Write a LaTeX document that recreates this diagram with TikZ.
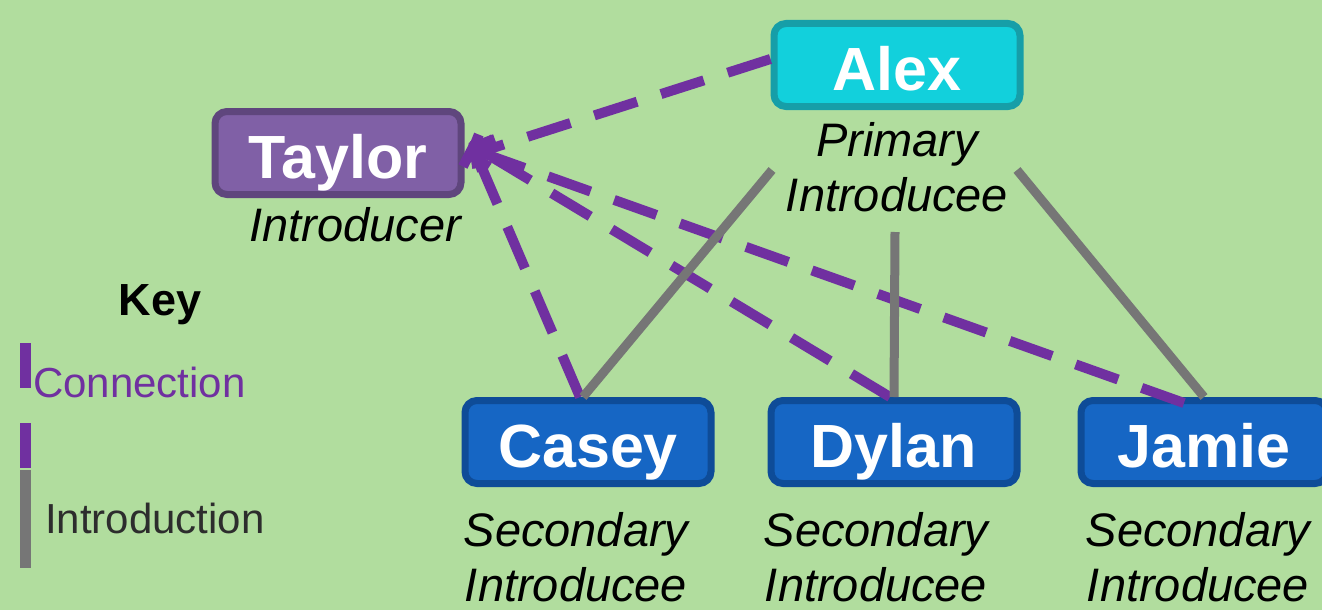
\documentclass[tikz,border=0pt]{standalone}
\usepackage{fontspec}
\setmainfont{Liberation Sans}
\usetikzlibrary{arrows.meta,positioning}

\definecolor{bggreen}{RGB}{177,221,158}
\definecolor{conpurple}{RGB}{112,48,160}
\definecolor{introgray}{RGB}{118,118,118}
\definecolor{keygray}{RGB}{45,45,45}
\definecolor{taylorfill}{RGB}{128,96,166}
\definecolor{taylorline}{RGB}{95,70,125}
\definecolor{alexfill}{RGB}{18,208,220}
\definecolor{alexline}{RGB}{22,158,168}
\definecolor{secfill}{RGB}{22,102,196}
\definecolor{secline}{RGB}{14,76,152}

\tikzstyle{person}=[draw, rounded corners=12pt, line width=7pt, minimum width=246pt, minimum height=83pt, inner sep=0pt, text height=56pt, text depth=6pt, text=white, font=\fontsize{61}{70}\selectfont\bfseries]
\tikzstyle{role}=[align=center, inner sep=0pt, font=\fontsize{47}{55}\selectfont\itshape]
\tikzstyle{connection}=[draw=conpurple, line width=10pt, dash pattern=on 45pt off 25pt, -{Straight Barb[length=14pt,width=34pt]}]
\tikzstyle{introduction}=[draw=introgray, line width=9pt]
\tikzstyle{keytext}=[anchor=west, inner sep=0pt, font=\fontsize{42}{50}\selectfont]

\begin{document}
\begin{tikzpicture}[x=1pt,y=-1pt]
        \path[use as bounding box, fill=bggreen] (0,0) rectangle (1322,610);
        \clip (0,0) rectangle (1322,610);

        % people
        \node[person, fill=taylorfill, draw=taylorline] (taylor) at (338,153) {Taylor};
        \node[person, fill=alexfill, draw=alexline] (alex) at (897,65) {Alex};
        \node[person, fill=secfill, draw=secline] (casey) at (588,442) {Casey};
        \node[person, fill=secfill, draw=secline] (dylan) at (894,442) {Dylan};
        \node[person, fill=secfill, draw=secline] (jamie) at (1204,442) {Jamie};

        % roles
        \node[role] (taylorrole) at (355,225) {Introducer};
        \node[role] (alexrole) at (897,167) {Primary\\Introducee};
        \node[role] (caseyrole) at (576,557) {Secondary\\Introducee};
        \node[role] (dylanrole) at (876,557) {Secondary\\Introducee};
        \node[role] (jamierole) at (1198,557) {Secondary\\Introducee};

        % connections
        \draw[connection] ([yshift=6pt]alex.west) -- ([yshift=-4pt]taylor.east);
        \draw[connection] ([xshift=-8pt]casey.north) -- ([xshift=6pt,yshift=12pt]taylor.east);
        \draw[connection] ([xshift=-4pt]dylan.north) -- ([xshift=4pt,yshift=10pt]taylor.east);
        \draw[connection] ([xshift=-20pt,yshift=-6pt]jamie.north) -- ([xshift=4pt,yshift=5pt]taylor.east);

        % introductions
        \coordinate (ga) at (772,170);
        \coordinate (gb) at (895,232);
        \coordinate (gc) at (1017,170);
        \draw[introduction] (ga) -- ([xshift=-5pt]casey.north);
        \draw[introduction] (gb) -- (dylan.north);
        \draw[introduction] (gc) -- (jamie.north);

        % key
        \node[font=\fontsize{45}{54}\selectfont\bfseries] (key) at (160,305) {Key};
        \coordinate (k1) at (25,343);
        \coordinate (k2) at (25,470);
        \coordinate (k3) at (25,568);
        \draw[conpurple, line width=11pt, dash pattern=on 45pt off 35pt] (k1) -- (k2);
        \draw[introgray, line width=11pt] (k2) -- (k3);
        \node[keytext, text=conpurple] (conkey) at (33,382) {Connection};
        \node[keytext, text=keygray] (introkey) at (45,518) {Introduction};
\end{tikzpicture}
\end{document}
